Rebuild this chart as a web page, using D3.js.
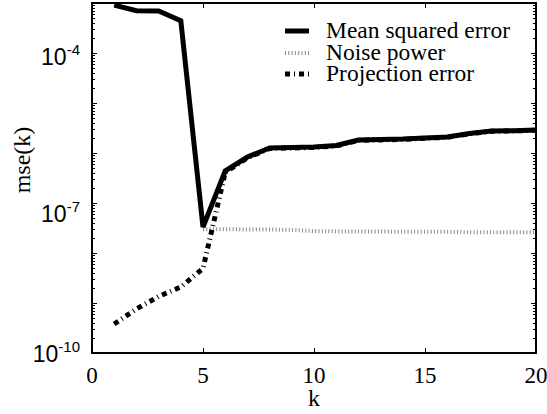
<!DOCTYPE html>
<html>
<head>
<meta charset="utf-8">
<script src="https://cdn.jsdelivr.net/npm/d3@7"></script>
<style>
  body { margin: 0; background: #fff; }
  svg { display: block; }
  text { fill: #000; }
</style>
</head>
<body>
<div id="chart"></div>
<script>
var width = 547;
var height = 414;

// data
var ks = [1, 2, 3, 4, 5, 6, 7, 8, 9, 10, 11, 12, 13, 14, 15, 16, 17, 18, 19, 20];
var mse = [9.1e-4, 7.0e-4, 6.9e-4, 4.4e-4, 3.3e-8, 4.4e-7, 8.3e-7, 1.26e-6, 1.29e-6, 1.32e-6,
  1.41e-6, 1.82e-6, 1.86e-6, 1.9e-6, 2.0e-6, 2.09e-6, 2.45e-6, 2.75e-6, 2.8e-6, 2.88e-6];
var noise = [null, null, null, null, 3.0e-8, 3.0e-8, 2.95e-8, 2.95e-8, 2.9e-8, 2.75e-8,
  2.7e-8, 2.7e-8, 2.7e-8, 2.65e-8, 2.65e-8, 2.65e-8, 2.6e-8, 2.6e-8, 2.6e-8, 2.6e-8];
var projection = [3.8e-10, 7.6e-10, 1.35e-9, 2.09e-9, 4.9e-9, 4.1e-7, 8.0e-7, 1.23e-6, 1.26e-6, 1.29e-6,
  1.38e-6, 1.79e-6, 1.83e-6, 1.87e-6, 1.97e-6, 2.06e-6, 2.42e-6, 2.72e-6, 2.77e-6, 2.85e-6];

var xTicks = [0, 5, 10, 15, 20];
var yExponents = [-10, -9, -8, -7, -6, -5, -4, -3];
var yLabelExponents = [-10, -7, -4];
var seriesNames = ['Mean squared error', 'Noise power', 'Projection error'];

var x = d3.scaleLinear().domain([0, 20]).range([92, 536]);
var y = d3.scaleLog().domain([1e-10, 1e-3]).range([353, 3]);

var svg = d3.select('#chart').append('svg')
  .attr('width', width)
  .attr('height', height);

var serif = '"Liberation Serif", "Times New Roman", serif';
var sans = '"Liberation Sans", Arial, sans-serif';

// minor ticks on both log axes
var minor = [];
yExponents.slice(0, -1).forEach(function(e) {
  for (var m = 2; m <= 9; m++) minor.push(m * Math.pow(10, e));
});
var majorY = yExponents.map(function(e) { return Math.pow(10, e); });

var tickLayer = svg.append('g').attr('stroke', '#000').attr('stroke-width', 1);
[[x.range()[0], 1], [x.range()[1], -1]].forEach(function(side) {
  tickLayer.selectAll(null).data(minor).enter().append('line')
    .attr('x1', side[0]).attr('x2', side[0] + side[1] * 3)
    .attr('y1', function(d) { return Math.round(y(d)) + 0.5; })
    .attr('y2', function(d) { return Math.round(y(d)) + 0.5; });
  tickLayer.selectAll(null).data(majorY).enter().append('line')
    .attr('x1', side[0]).attr('x2', side[0] + side[1] * 5)
    .attr('y1', function(d) { return Math.round(y(d)) + 0.5; })
    .attr('y2', function(d) { return Math.round(y(d)) + 0.5; });
});
[[y.range()[0], -1], [y.range()[1], 1]].forEach(function(side) {
  tickLayer.selectAll(null).data(xTicks).enter().append('line')
    .attr('y1', side[0]).attr('y2', side[0] + side[1] * 5)
    .attr('x1', function(d) { return Math.round(x(d)) + 0.5; })
    .attr('x2', function(d) { return Math.round(x(d)) + 0.5; });
});

// frame
svg.append('rect')
  .attr('x', x.range()[0]).attr('y', y.range()[1])
  .attr('width', x.range()[1] - x.range()[0])
  .attr('height', y.range()[0] - y.range()[1])
  .attr('fill', 'none').attr('stroke', '#000').attr('stroke-width', 2);

// x tick labels
svg.append('g').selectAll('text').data(xTicks).enter().append('text')
  .attr('x', function(d) { return x(d); })
  .attr('y', 383)
  .attr('text-anchor', 'middle')
  .attr('font-family', serif).attr('font-size', 23)
  .text(function(d) { return d; });

// y tick labels, 10^e
var yLabelShift = { '-10': 9, '-7': 19, '-4': 12 };
var yl = svg.append('g').selectAll('text').data(yLabelExponents).enter().append('text')
  .attr('x', 80)
  .attr('y', function(d) { return y(Math.pow(10, d)) + yLabelShift[d]; })
  .attr('text-anchor', 'end')
  .attr('font-family', sans).attr('font-size', 23);
yl.append('tspan').text('10');
yl.append('tspan').attr('font-size', 15).attr('dy', -10).text(function(d) { return '-' + Math.abs(d); });

// axis titles
svg.append('text')
  .attr('x', x(10)).attr('y', 406)
  .attr('text-anchor', 'middle')
  .attr('font-family', serif).attr('font-size', 24)
  .text('k');
svg.append('text')
  .attr('transform', 'translate(30,' + 160 + ') rotate(-90)')
  .attr('text-anchor', 'middle')
  .attr('font-family', serif).attr('font-size', 24)
  .text('mse(k)');

// series
var styles = [
  { stroke: '#000', width: 5, dash: null },
  { stroke: '#888', width: 4, dash: '1,2.3' },
  { stroke: '#000', width: 5, dash: '5,4,1,4' }
];
var seriesValues = [mse, noise, projection];

function lineFor(values) {
  return d3.line()
    .defined(function(d, i) { return values[i] != null; })
    .x(function(d) { return x(d); })
    .y(function(d, i) { return y(values[i]); })(ks);
}

var lineLayer = svg.append('g').attr('fill', 'none');
[1, 2, 0].forEach(function(i) {
  lineLayer.append('path')
    .attr('d', lineFor(seriesValues[i]))
    .attr('stroke', styles[i].stroke)
    .attr('stroke-width', styles[i].width)
    .attr('stroke-dasharray', styles[i].dash)
    .attr('stroke-linejoin', 'miter');
});

// legend
var legendRows = [31, 53, 74];
var legend = svg.append('g').selectAll('g').data(seriesNames).enter().append('g')
  .attr('transform', function(d, i) { return 'translate(0,' + legendRows[i] + ')'; });
legend.append('line')
  .attr('x1', 285).attr('x2', 309)
  .attr('stroke', function(d, i) { return styles[i].stroke; })
  .attr('stroke-width', function(d, i) { return styles[i].width; })
  .attr('stroke-dasharray', function(d, i) { return styles[i].dash; });
legend.append('text')
  .attr('x', 326).attr('y', 7)
  .attr('font-family', serif).attr('font-size', 23.5)
  .text(function(d) { return d; });
</script>
</body>
</html>
